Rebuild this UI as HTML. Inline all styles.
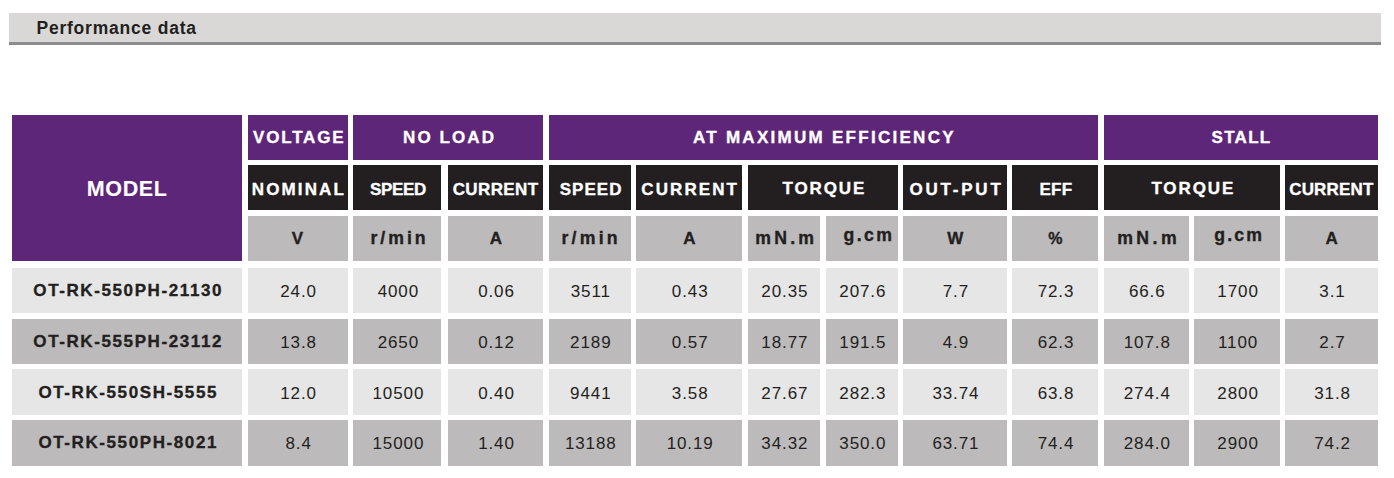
<!DOCTYPE html>
<html><head><meta charset="utf-8"><style>
html,body{margin:0;padding:0;background:#fff;width:1394px;height:478px;overflow:hidden;position:relative}
body{font-family:"Liberation Sans",sans-serif}
.bar{position:absolute;left:9px;top:13px;width:1371.7px;height:29px;background:#d9d8d7;border-bottom:3.7px solid #8b8d90}
.bar span{position:absolute;white-space:nowrap;font-weight:bold;color:#231f20;line-height:29px}
.c{position:absolute;display:flex;align-items:center;justify-content:center;white-space:nowrap}
.c span{display:block;line-height:1}
.hm span{-webkit-text-stroke:0.1px currentColor}
.h1 span,.h2 span,.h3 span,.dm span{-webkit-text-stroke:0.35px currentColor}
.hm span{color:#fff;font-weight:bold;font-size:20px}
.h1 span{color:#fff;font-weight:bold;font-size:17px}
.h2 span{color:#fff;font-weight:bold;font-size:17px}
.h3 span{color:#231f20;font-weight:bold;font-size:16px}
.d span{color:#231f20;font-size:17px}
.dm span{color:#231f20;font-weight:bold;font-size:17px}
</style></head><body>
<div class="bar"><span style="left:27.46px;top:0.9px;font-size:17.5px;letter-spacing:0.78px">Performance data</span></div>
<div class="c hm" style="left:12px;top:115px;width:230.00px;height:146.00px;background:#5e2678"><span style="letter-spacing:0.60px;margin-right:-0.60px;transform:translate(-0.16px,1.68px);font-size:21.5px">MODEL</span></div>
<div class="c h1" style="left:247.5px;top:115px;width:100.10px;height:45.00px;background:#5e2678"><span style="letter-spacing:1.81px;margin-right:-1.81px;transform:translate(0.76px,-0.48px)">VOLTAGE</span></div>
<div class="c h1" style="left:353.2px;top:115px;width:190.20px;height:45.00px;background:#5e2678"><span style="letter-spacing:2.08px;margin-right:-2.08px;transform:translate(0.24px,-0.48px)">NO LOAD</span></div>
<div class="c h1" style="left:549px;top:115px;width:548.90px;height:45.00px;background:#5e2678"><span style="letter-spacing:2.28px;margin-right:-2.28px;transform:translate(-0.16px,-0.48px)">AT MAXIMUM EFFICIENCY</span></div>
<div class="c h1" style="left:1103.7px;top:115px;width:274.30px;height:45.00px;background:#5e2678"><span style="letter-spacing:1.28px;margin-right:-1.28px;transform:translate(0.08px,-0.48px)">STALL</span></div>
<div class="c h2" style="left:247.5px;top:165.3px;width:100.10px;height:45.20px;background:#231f20"><span style="letter-spacing:2.13px;margin-right:-2.13px;transform:translate(0.28px,1.60px)">NOMINAL</span></div>
<div class="c h2" style="left:353.2px;top:165.3px;width:88.30px;height:45.20px;background:#231f20"><span style="letter-spacing:-0.32px;margin-right:0.32px;transform:translate(0.76px,1.60px)">SPEED</span></div>
<div class="c h2" style="left:447.5px;top:165.3px;width:95.90px;height:45.20px;background:#231f20"><span style="letter-spacing:0.40px;margin-right:-0.40px;transform:translate(-0.04px,1.60px)">CURRENT</span></div>
<div class="c h2" style="left:549px;top:165.3px;width:81.50px;height:45.20px;background:#231f20"><span style="letter-spacing:1.04px;margin-right:-1.04px;transform:translate(0.80px,1.60px)">SPEED</span></div>
<div class="c h2" style="left:636px;top:165.3px;width:106.30px;height:45.20px;background:#231f20"><span style="letter-spacing:2.08px;margin-right:-2.08px;transform:translate(0.00px,1.60px)">CURRENT</span></div>
<div class="c h2" style="left:748px;top:165.3px;width:149.50px;height:45.20px;background:#231f20"><span style="letter-spacing:1.89px;margin-right:-1.89px;transform:translate(0.64px,1.04px)">TORQUE</span></div>
<div class="c h2" style="left:903.2px;top:165.3px;width:103.40px;height:45.20px;background:#231f20"><span style="letter-spacing:2.77px;margin-right:-2.77px;transform:translate(0.28px,1.68px)">OUT-PUT</span></div>
<div class="c h2" style="left:1012px;top:165.3px;width:85.90px;height:45.20px;background:#231f20"><span style="letter-spacing:0.32px;margin-right:-0.32px;transform:translate(0.88px,1.68px)">EFF</span></div>
<div class="c h2" style="left:1103.7px;top:165.3px;width:175.90px;height:45.20px;background:#231f20"><span style="letter-spacing:1.89px;margin-right:-1.89px;transform:translate(0.72px,1.04px)">TORQUE</span></div>
<div class="c h2" style="left:1285px;top:165.3px;width:93.00px;height:45.20px;background:#231f20"><span style="letter-spacing:0.16px;margin-right:-0.16px;transform:translate(-0.24px,1.52px)">CURRENT</span></div>
<div class="c h3" style="left:247.5px;top:216px;width:100.10px;height:45.00px;background:#bcbabb"><span style="letter-spacing:0.00px;margin-right:0.00px;transform:translate(-0.24px,0.24px);font-size:17px">V</span></div>
<div class="c h3" style="left:353.2px;top:216px;width:88.30px;height:45.00px;background:#bcbabb"><span style="letter-spacing:2.96px;margin-right:-2.96px;transform:translate(0.72px,0.08px);font-size:17.7px">r/min</span></div>
<div class="c h3" style="left:447.5px;top:216px;width:95.90px;height:45.00px;background:#bcbabb"><span style="letter-spacing:0.00px;margin-right:0.00px;transform:translate(0.36px,0.24px);font-size:17px">A</span></div>
<div class="c h3" style="left:549px;top:216px;width:81.50px;height:45.00px;background:#bcbabb"><span style="letter-spacing:3.20px;margin-right:-3.20px;transform:translate(-0.20px,0.08px);font-size:17.7px">r/min</span></div>
<div class="c h3" style="left:636px;top:216px;width:106.30px;height:45.00px;background:#bcbabb"><span style="letter-spacing:0.00px;margin-right:0.00px;transform:translate(0.28px,0.24px);font-size:17px">A</span></div>
<div class="c h3" style="left:748px;top:216px;width:71.70px;height:45.00px;background:#bcbabb"><span style="letter-spacing:3.20px;margin-right:-3.20px;transform:translate(0.88px,0.24px);font-size:17.7px">mN.m</span></div>
<div class="c h3" style="left:826px;top:216px;width:71.50px;height:45.00px;background:#bcbabb"><span style="letter-spacing:2.40px;margin-right:-2.40px;transform:translate(5.96px,-2.80px);font-size:17.7px">g.cm</span></div>
<div class="c h3" style="left:903.2px;top:216px;width:103.40px;height:45.00px;background:#bcbabb"><span style="letter-spacing:0.00px;margin-right:0.00px;transform:translate(0.48px,0.24px);font-size:17px">W</span></div>
<div class="c h3" style="left:1012px;top:216px;width:85.90px;height:45.00px;background:#bcbabb"><span style="letter-spacing:0.00px;margin-right:0.00px;transform:translate(0.36px,0.24px)">%</span></div>
<div class="c h3" style="left:1103.7px;top:216px;width:85.00px;height:45.00px;background:#bcbabb"><span style="letter-spacing:3.47px;margin-right:-3.47px;transform:translate(0.72px,0.24px);font-size:17.7px">mN.m</span></div>
<div class="c h3" style="left:1194.4px;top:216px;width:85.20px;height:45.00px;background:#bcbabb"><span style="letter-spacing:2.13px;margin-right:-2.13px;transform:translate(1.16px,-2.80px);font-size:17.7px">g.cm</span></div>
<div class="c h3" style="left:1285px;top:216px;width:93.00px;height:45.00px;background:#bcbabb"><span style="letter-spacing:0.00px;margin-right:0.00px;transform:translate(0.12px,0.24px);font-size:17px">A</span></div>
<div class="c dm" style="left:12px;top:268px;width:230.00px;height:45.20px;background:#e6e6e6"><span style="letter-spacing:1.60px;margin-right:-1.60px;transform:translate(0.40px,-0.40px)">OT-RK-550PH-21130</span></div>
<div class="c d" style="left:247.5px;top:268px;width:100.10px;height:45.20px;background:#e6e6e6"><span style="letter-spacing:0.90px;margin-right:-0.90px;transform:translate(0.60px,0.80px)">24.0</span></div>
<div class="c d" style="left:353.2px;top:268px;width:88.30px;height:45.20px;background:#e6e6e6"><span style="letter-spacing:0.90px;margin-right:-0.90px;transform:translate(0.60px,0.80px)">4000</span></div>
<div class="c d" style="left:447.5px;top:268px;width:95.90px;height:45.20px;background:#e6e6e6"><span style="letter-spacing:0.90px;margin-right:-0.90px;transform:translate(0.60px,0.80px)">0.06</span></div>
<div class="c d" style="left:549px;top:268px;width:81.50px;height:45.20px;background:#e6e6e6"><span style="letter-spacing:0.90px;margin-right:-0.90px;transform:translate(0.60px,0.80px)">3511</span></div>
<div class="c d" style="left:636px;top:268px;width:106.30px;height:45.20px;background:#e6e6e6"><span style="letter-spacing:0.90px;margin-right:-0.90px;transform:translate(0.60px,0.80px)">0.43</span></div>
<div class="c d" style="left:748px;top:268px;width:71.70px;height:45.20px;background:#e6e6e6"><span style="letter-spacing:0.90px;margin-right:-0.90px;transform:translate(0.60px,0.80px)">20.35</span></div>
<div class="c d" style="left:826px;top:268px;width:71.50px;height:45.20px;background:#e6e6e6"><span style="letter-spacing:0.90px;margin-right:-0.90px;transform:translate(0.60px,0.80px)">207.6</span></div>
<div class="c d" style="left:903.2px;top:268px;width:103.40px;height:45.20px;background:#e6e6e6"><span style="letter-spacing:0.90px;margin-right:-0.90px;transform:translate(0.60px,0.80px)">7.7</span></div>
<div class="c d" style="left:1012px;top:268px;width:85.90px;height:45.20px;background:#e6e6e6"><span style="letter-spacing:0.90px;margin-right:-0.90px;transform:translate(0.60px,0.80px)">72.3</span></div>
<div class="c d" style="left:1103.7px;top:268px;width:85.00px;height:45.20px;background:#e6e6e6"><span style="letter-spacing:0.90px;margin-right:-0.90px;transform:translate(0.60px,0.80px)">66.6</span></div>
<div class="c d" style="left:1194.4px;top:268px;width:85.20px;height:45.20px;background:#e6e6e6"><span style="letter-spacing:0.90px;margin-right:-0.90px;transform:translate(0.60px,0.80px)">1700</span></div>
<div class="c d" style="left:1285px;top:268px;width:93.00px;height:45.20px;background:#e6e6e6"><span style="letter-spacing:0.90px;margin-right:-0.90px;transform:translate(0.60px,0.80px)">3.1</span></div>
<div class="c dm" style="left:12px;top:319px;width:230.00px;height:45.00px;background:#bcbabb"><span style="letter-spacing:1.60px;margin-right:-1.60px;transform:translate(0.40px,-0.40px)">OT-RK-555PH-23112</span></div>
<div class="c d" style="left:247.5px;top:319px;width:100.10px;height:45.00px;background:#bcbabb"><span style="letter-spacing:0.90px;margin-right:-0.90px;transform:translate(0.60px,0.80px)">13.8</span></div>
<div class="c d" style="left:353.2px;top:319px;width:88.30px;height:45.00px;background:#bcbabb"><span style="letter-spacing:0.90px;margin-right:-0.90px;transform:translate(0.60px,0.80px)">2650</span></div>
<div class="c d" style="left:447.5px;top:319px;width:95.90px;height:45.00px;background:#bcbabb"><span style="letter-spacing:0.90px;margin-right:-0.90px;transform:translate(0.60px,0.80px)">0.12</span></div>
<div class="c d" style="left:549px;top:319px;width:81.50px;height:45.00px;background:#bcbabb"><span style="letter-spacing:0.90px;margin-right:-0.90px;transform:translate(0.60px,0.80px)">2189</span></div>
<div class="c d" style="left:636px;top:319px;width:106.30px;height:45.00px;background:#bcbabb"><span style="letter-spacing:0.90px;margin-right:-0.90px;transform:translate(0.60px,0.80px)">0.57</span></div>
<div class="c d" style="left:748px;top:319px;width:71.70px;height:45.00px;background:#bcbabb"><span style="letter-spacing:0.90px;margin-right:-0.90px;transform:translate(0.60px,0.80px)">18.77</span></div>
<div class="c d" style="left:826px;top:319px;width:71.50px;height:45.00px;background:#bcbabb"><span style="letter-spacing:0.90px;margin-right:-0.90px;transform:translate(0.60px,0.80px)">191.5</span></div>
<div class="c d" style="left:903.2px;top:319px;width:103.40px;height:45.00px;background:#bcbabb"><span style="letter-spacing:0.90px;margin-right:-0.90px;transform:translate(0.60px,0.80px)">4.9</span></div>
<div class="c d" style="left:1012px;top:319px;width:85.90px;height:45.00px;background:#bcbabb"><span style="letter-spacing:0.90px;margin-right:-0.90px;transform:translate(0.60px,0.80px)">62.3</span></div>
<div class="c d" style="left:1103.7px;top:319px;width:85.00px;height:45.00px;background:#bcbabb"><span style="letter-spacing:0.90px;margin-right:-0.90px;transform:translate(0.60px,0.80px)">107.8</span></div>
<div class="c d" style="left:1194.4px;top:319px;width:85.20px;height:45.00px;background:#bcbabb"><span style="letter-spacing:0.90px;margin-right:-0.90px;transform:translate(0.60px,0.80px)">1100</span></div>
<div class="c d" style="left:1285px;top:319px;width:93.00px;height:45.00px;background:#bcbabb"><span style="letter-spacing:0.90px;margin-right:-0.90px;transform:translate(0.60px,0.80px)">2.7</span></div>
<div class="c dm" style="left:12px;top:369.4px;width:230.00px;height:45.50px;background:#e6e6e6"><span style="letter-spacing:1.60px;margin-right:-1.60px;transform:translate(0.40px,-0.40px)">OT-RK-550SH-5555</span></div>
<div class="c d" style="left:247.5px;top:369.4px;width:100.10px;height:45.50px;background:#e6e6e6"><span style="letter-spacing:0.90px;margin-right:-0.90px;transform:translate(0.60px,0.80px)">12.0</span></div>
<div class="c d" style="left:353.2px;top:369.4px;width:88.30px;height:45.50px;background:#e6e6e6"><span style="letter-spacing:0.90px;margin-right:-0.90px;transform:translate(0.60px,0.80px)">10500</span></div>
<div class="c d" style="left:447.5px;top:369.4px;width:95.90px;height:45.50px;background:#e6e6e6"><span style="letter-spacing:0.90px;margin-right:-0.90px;transform:translate(0.60px,0.80px)">0.40</span></div>
<div class="c d" style="left:549px;top:369.4px;width:81.50px;height:45.50px;background:#e6e6e6"><span style="letter-spacing:0.90px;margin-right:-0.90px;transform:translate(0.60px,0.80px)">9441</span></div>
<div class="c d" style="left:636px;top:369.4px;width:106.30px;height:45.50px;background:#e6e6e6"><span style="letter-spacing:0.90px;margin-right:-0.90px;transform:translate(0.60px,0.80px)">3.58</span></div>
<div class="c d" style="left:748px;top:369.4px;width:71.70px;height:45.50px;background:#e6e6e6"><span style="letter-spacing:0.90px;margin-right:-0.90px;transform:translate(0.60px,0.80px)">27.67</span></div>
<div class="c d" style="left:826px;top:369.4px;width:71.50px;height:45.50px;background:#e6e6e6"><span style="letter-spacing:0.90px;margin-right:-0.90px;transform:translate(0.60px,0.80px)">282.3</span></div>
<div class="c d" style="left:903.2px;top:369.4px;width:103.40px;height:45.50px;background:#e6e6e6"><span style="letter-spacing:0.90px;margin-right:-0.90px;transform:translate(0.60px,0.80px)">33.74</span></div>
<div class="c d" style="left:1012px;top:369.4px;width:85.90px;height:45.50px;background:#e6e6e6"><span style="letter-spacing:0.90px;margin-right:-0.90px;transform:translate(0.60px,0.80px)">63.8</span></div>
<div class="c d" style="left:1103.7px;top:369.4px;width:85.00px;height:45.50px;background:#e6e6e6"><span style="letter-spacing:0.90px;margin-right:-0.90px;transform:translate(0.60px,0.80px)">274.4</span></div>
<div class="c d" style="left:1194.4px;top:369.4px;width:85.20px;height:45.50px;background:#e6e6e6"><span style="letter-spacing:0.90px;margin-right:-0.90px;transform:translate(0.60px,0.80px)">2800</span></div>
<div class="c d" style="left:1285px;top:369.4px;width:93.00px;height:45.50px;background:#e6e6e6"><span style="letter-spacing:0.90px;margin-right:-0.90px;transform:translate(0.60px,0.80px)">31.8</span></div>
<div class="c dm" style="left:12px;top:420.2px;width:230.00px;height:45.60px;background:#bcbabb"><span style="letter-spacing:1.60px;margin-right:-1.60px;transform:translate(0.40px,-0.40px)">OT-RK-550PH-8021</span></div>
<div class="c d" style="left:247.5px;top:420.2px;width:100.10px;height:45.60px;background:#bcbabb"><span style="letter-spacing:0.90px;margin-right:-0.90px;transform:translate(0.60px,0.80px)">8.4</span></div>
<div class="c d" style="left:353.2px;top:420.2px;width:88.30px;height:45.60px;background:#bcbabb"><span style="letter-spacing:0.90px;margin-right:-0.90px;transform:translate(0.60px,0.80px)">15000</span></div>
<div class="c d" style="left:447.5px;top:420.2px;width:95.90px;height:45.60px;background:#bcbabb"><span style="letter-spacing:0.90px;margin-right:-0.90px;transform:translate(0.60px,0.80px)">1.40</span></div>
<div class="c d" style="left:549px;top:420.2px;width:81.50px;height:45.60px;background:#bcbabb"><span style="letter-spacing:0.90px;margin-right:-0.90px;transform:translate(0.60px,0.80px)">13188</span></div>
<div class="c d" style="left:636px;top:420.2px;width:106.30px;height:45.60px;background:#bcbabb"><span style="letter-spacing:0.90px;margin-right:-0.90px;transform:translate(0.60px,0.80px)">10.19</span></div>
<div class="c d" style="left:748px;top:420.2px;width:71.70px;height:45.60px;background:#bcbabb"><span style="letter-spacing:0.90px;margin-right:-0.90px;transform:translate(0.60px,0.80px)">34.32</span></div>
<div class="c d" style="left:826px;top:420.2px;width:71.50px;height:45.60px;background:#bcbabb"><span style="letter-spacing:0.90px;margin-right:-0.90px;transform:translate(0.60px,0.80px)">350.0</span></div>
<div class="c d" style="left:903.2px;top:420.2px;width:103.40px;height:45.60px;background:#bcbabb"><span style="letter-spacing:0.90px;margin-right:-0.90px;transform:translate(0.60px,0.80px)">63.71</span></div>
<div class="c d" style="left:1012px;top:420.2px;width:85.90px;height:45.60px;background:#bcbabb"><span style="letter-spacing:0.90px;margin-right:-0.90px;transform:translate(0.60px,0.80px)">74.4</span></div>
<div class="c d" style="left:1103.7px;top:420.2px;width:85.00px;height:45.60px;background:#bcbabb"><span style="letter-spacing:0.90px;margin-right:-0.90px;transform:translate(0.60px,0.80px)">284.0</span></div>
<div class="c d" style="left:1194.4px;top:420.2px;width:85.20px;height:45.60px;background:#bcbabb"><span style="letter-spacing:0.90px;margin-right:-0.90px;transform:translate(0.60px,0.80px)">2900</span></div>
<div class="c d" style="left:1285px;top:420.2px;width:93.00px;height:45.60px;background:#bcbabb"><span style="letter-spacing:0.90px;margin-right:-0.90px;transform:translate(0.60px,0.80px)">74.2</span></div>
</body></html>
